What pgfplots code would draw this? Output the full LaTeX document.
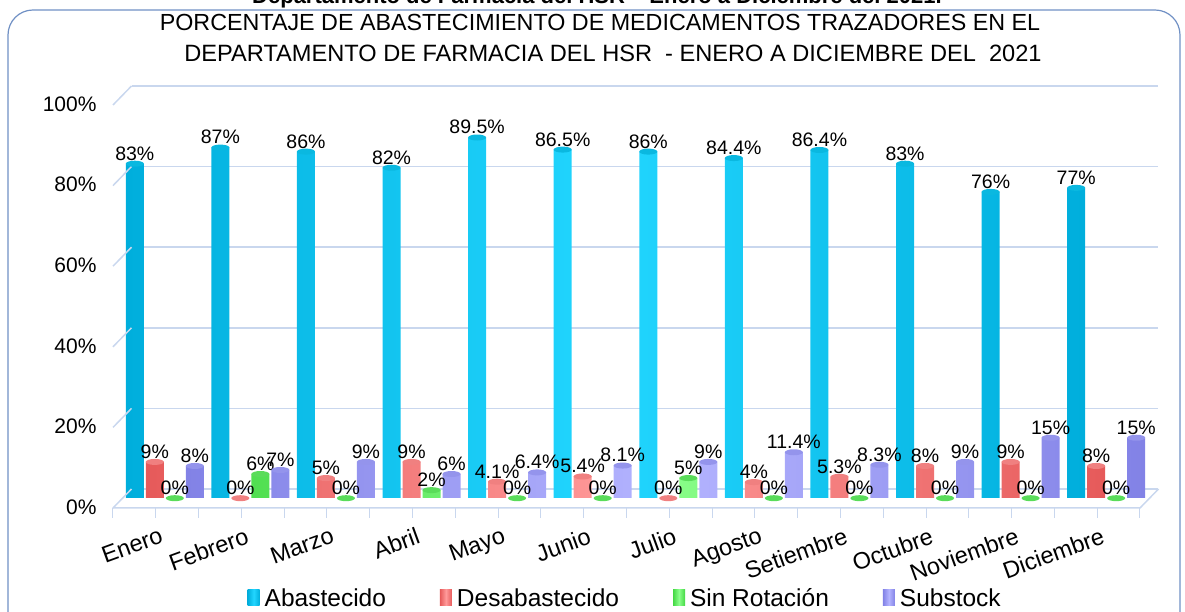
\documentclass[border=0pt]{standalone}
\usepackage{pgfplots}
\pgfplotsset{compat=1.18}
\usetikzlibrary{shapes.geometric}
\usepackage{fontspec}
\setmainfont{Liberation Sans}
\definecolor{cyanD}{HTML}{00AEDC}
\definecolor{cyanL}{HTML}{22D6FF}
\definecolor{cyanC}{HTML}{0AB8E0}
\definecolor{redD}{HTML}{E65A5A}
\definecolor{redL}{HTML}{FF9A9A}
\definecolor{redC}{HTML}{F08080}
\definecolor{grnD}{HTML}{44D844}
\definecolor{grnL}{HTML}{8CFF8C}
\definecolor{grnC}{HTML}{5ADC5A}
\definecolor{purD}{HTML}{8282E6}
\definecolor{purL}{HTML}{B4B4FF}
\definecolor{purC}{HTML}{9494EC}
\definecolor{gridc}{HTML}{C9D7EE}
\definecolor{borderc}{HTML}{7090C4}
\pgfplotstableread{
x abast desab sinrot subst
0 83 9 0 8
1 87 0 6 7
2 86 5 0 9
3 82 9 2 6
4 89.5 4.1 0 6.4
5 86.5 5.4 0 8.1
6 86 0 5 9
7 84.4 4 0 11.4
8 86.4 5.3 0 8.3
9 83 8 0 9
10 76 9 0 15
11 77 8 0 15
}\datatable
\tikzset{cap/.style={label={[ellipse, fill=#1, draw=none, minimum width=18pt, minimum height=6pt, inner sep=0pt, label distance=-3pt]south:{}}}}
\begin{document}
\begin{tikzpicture}[x=1pt,y=1pt]
\draw[borderc, line width=1.2pt, rounded corners=25pt] (8,-40) rectangle (1180,602);
\node[font=\bfseries\fontsize{22}{24}\selectfont, anchor=base] at (597,608) {Departamento de Farmacia del HSR -- Enero a Diciembre del 2021.};
\node[font=\fontsize{23.3}{25}\selectfont, anchor=base] at (600,581) {PORCENTAJE DE ABASTECIMIENTO DE MEDICAMENTOS TRAZADORES EN EL};
\node[font=\fontsize{23.6}{25}\selectfont, anchor=base] at (613,550) {DEPARTAMENTO DE FARMACIA DEL HSR\ \ - ENERO A DICIEMBRE DEL\ \ 2021};
\begin{axis}[
  at={(122pt,114pt)}, anchor=south west,
  width=1027pt, height=403pt, scale only axis,
  xmin=-0.5, xmax=11.5, ymin=0, ymax=100,
  ybar=2pt, bar width=18pt,
  axis line style={draw=none},
  tick style={draw=none},
  ymajorgrids,
  major grid style={draw=gridc, line width=1.5pt, xshift=9.5pt, yshift=9pt},
  xtick={0,...,11},
  xticklabels={Enero,Febrero,Marzo,Abril,Mayo,Junio,Julio,Agosto,Setiembre,Octubre,Noviembre,Diciembre},
  xticklabel style={rotate=20, anchor=north east, inner sep=0pt, yshift=-21pt, xshift=-14pt, font=\fontsize{23.5}{25}\selectfont},
  ytick={0,20,...,100},
  yticklabel={\pgfmathprintnumber{\tick}\%},
  yticklabel style={xshift=-22pt, yshift=-9pt, font=\fontsize{21}{23}\selectfont},
  /pgf/number format/assume math mode=true,
  nodes near coords={\pgfmathprintnumber{\pgfplotspointmeta}\%},
  every node near coord/.append style={font=\fontsize{19.5}{22}\selectfont, inner sep=3pt},
  clip=false,
  legend columns=4,
  legend style={at={(0.49,-0.248)}, anchor=center, draw=none, fill=none,
    font=\fontsize{24.5}{26}\selectfont,
    /tikz/every odd column/.append style={column sep=3pt},
    /tikz/every even column/.append style={column sep=52pt}},
  legend image code/.code={\path[#1, draw=none] (0pt,-8pt) rectangle (12pt,8pt);},
]
\addplot[draw=none, left color=cyanD, right color=cyanD, middle color=cyanL,
  every node near coord/.append style={cap=cyanC}] table[x=x,y=abast]{\datatable};
\addlegendentry{Abastecido}
\addplot[draw=none, left color=redD, right color=redD, middle color=redL,
  every node near coord/.append style={cap=redC}] table[x=x,y=desab]{\datatable};
\addlegendentry{Desabastecido}
\addplot[draw=none, left color=grnD, right color=grnD, middle color=grnL,
  every node near coord/.append style={cap=grnC}] table[x=x,y=sinrot]{\datatable};
\addlegendentry{Sin Rotación}
\addplot[draw=none, left color=purD, right color=purD, middle color=purL,
  every node near coord/.append style={cap=purC}] table[x=x,y=subst]{\datatable};
\addlegendentry{Substock}
\pgfplotsinvokeforeach{0,20,40,60,80,100}{
  \draw[gridc, line width=1.5pt] ([shift={(-9pt,-10pt)}]axis cs:-0.5,#1) -- ([shift={(9.5pt,9pt)}]axis cs:-0.5,#1);
}
\draw[gridc, line width=1.5pt] ([shift={(-9pt,-10pt)}]axis cs:-0.5,0) -- ([shift={(-9pt,-10pt)}]axis cs:11.5,0) -- ([shift={(9.5pt,9pt)}]axis cs:11.5,0);
\pgfplotsinvokeforeach{-0.5,0,...,11.5}{
  \draw[gridc, line width=1pt] ([shift={(-9pt,-10pt)}]axis cs:#1,0) -- ([shift={(-9pt,-20pt)}]axis cs:#1,0);
}
\end{axis}
\pgfresetboundingbox
\useasboundingbox (0,0) rectangle (1185,612);
\end{tikzpicture}
\end{document}
